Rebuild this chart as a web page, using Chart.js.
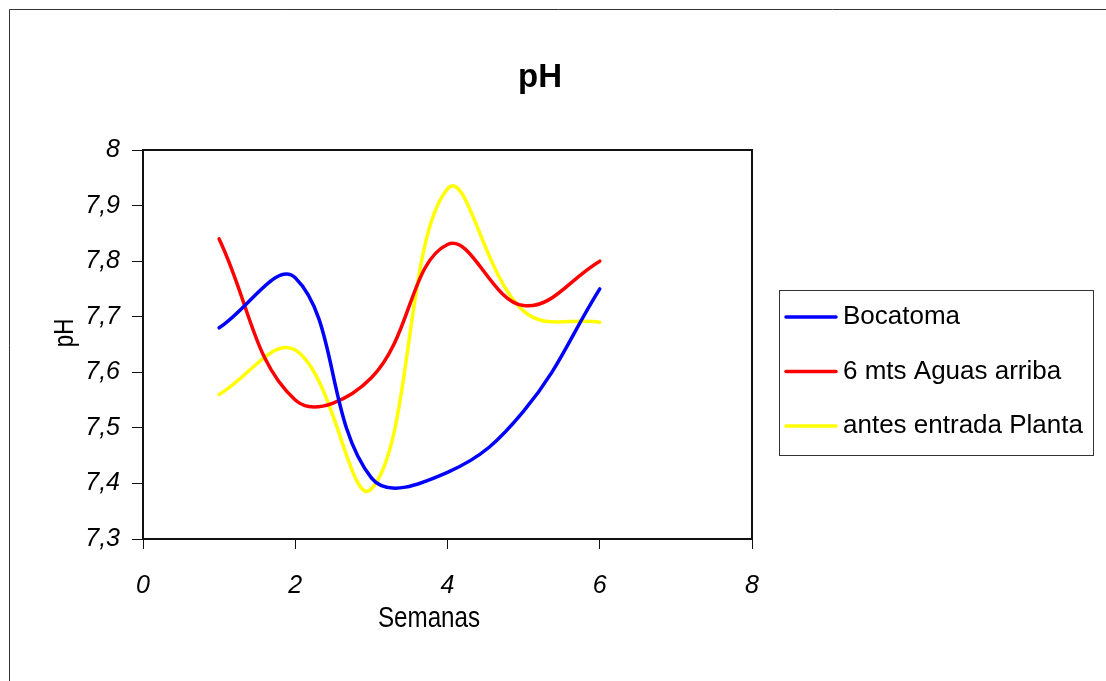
<!DOCTYPE html>
<html lang="es">
<head>
  <meta charset="UTF-8" />
  <title>pH - Semanas</title>
  <script src="https://cdn.jsdelivr.net/npm/chart.js"></script>
  <style>
    html, body {
      margin: 0;
      padding: 0;
      background: #fff;
    }

    .grafico {
      position: relative;
      width: 1106px;
      height: 681px;
    }
  </style>
</head>
<body>

<div class="grafico">
  <canvas id="graficoPh"></canvas>
</div>

<script>
  // Semanas de muestreo y valores de pH por punto
  const semanas = [1, 2, 3, 4, 5, 6];
  const bocatoma = [7.68, 7.77, 7.41, 7.42, 7.53, 7.75];
  const aguasArriba = [7.84, 7.55, 7.59, 7.83, 7.72, 7.80];
  const entradaPlanta = [7.56, 7.64, 7.39, 7.93, 7.71, 7.69];

  const series = ['Bocatoma', '6 mts Aguas arriba', 'antes entrada Planta'];
  const colores = ['#0000ff', '#ff0000', '#ffff00'];

  const tituloGrafico = 'pH';
  const tituloX = 'Semanas';
  const tituloY = 'pH';

  const fuente = "'Liberation Sans', Arial, sans-serif";

  const puntos = valores => semanas.map((s, i) => ({ x: s, y: valores[i] }));

  // texto estrecho: se comprime en horizontal
  function textoEstrecho(ctx, texto, x, y, size) {
    ctx.save();
    ctx.translate(x, y);
    ctx.scale(0.82, 1);
    ctx.font = size + 'px ' + fuente;
    ctx.fillText(texto, 0, 0);
    ctx.restore();
  }

  // Marco, titulos y leyenda al estilo de la hoja de calculo
  const decoracion = {
    id: 'decoracion',
    beforeDatasetsDraw(chart) {
      const ctx = chart.ctx;
      const a = chart.chartArea;
      ctx.save();
      // marco exterior
      ctx.strokeStyle = '#333';
      ctx.lineWidth = 1;
      ctx.beginPath();
      ctx.moveTo(9.5, chart.height + 5);
      ctx.lineTo(9.5, 9.5);
      ctx.lineTo(chart.width + 5, 9.5);
      ctx.stroke();
      // borde del area de trazado
      ctx.strokeStyle = '#111';
      ctx.lineWidth = 2;
      ctx.strokeRect(a.left, a.top, a.right - a.left, a.bottom - a.top);
      ctx.restore();
    },
    afterDraw(chart) {
      const ctx = chart.ctx;
      ctx.save();
      ctx.fillStyle = '#000';

      // titulo
      ctx.font = 'bold 33px ' + fuente;
      ctx.textAlign = 'center';
      ctx.textBaseline = 'alphabetic';
      ctx.fillText(tituloGrafico, 540, 87);

      // titulo eje X
      textoEstrecho(ctx, tituloX, 429, 627, 29.5);

      // titulo eje Y
      ctx.save();
      ctx.translate(66, 333);
      ctx.rotate(-Math.PI / 2);
      ctx.textBaseline = 'middle';
      textoEstrecho(ctx, tituloY, 0, 0, 27);
      ctx.restore();

      // leyenda
      ctx.strokeStyle = '#333';
      ctx.lineWidth = 1;
      ctx.strokeRect(779.5, 290.5, 314, 165);
      ctx.font = '26px ' + fuente;
      ctx.textAlign = 'left';
      ctx.textBaseline = 'middle';
      chart.data.datasets.forEach((ds, i) => {
        const y = 317 + i * 54.5;
        ctx.strokeStyle = ds.borderColor;
        ctx.lineWidth = 3.5;
        ctx.lineCap = 'round';
        ctx.beginPath();
        ctx.moveTo(786, y);
        ctx.lineTo(836, y);
        ctx.stroke();
        ctx.fillText(ds.label, 843, y);
      });
      ctx.restore();
    }
  };

  const datos = [bocatoma, aguasArriba, entradaPlanta];

  new Chart(document.getElementById('graficoPh'), {
    type: 'line',
    data: {
      datasets: series.map((nombre, i) => ({
        label: nombre,
        data: puntos(datos[i]),
        borderColor: colores[i],
        backgroundColor: colores[i],
        borderWidth: 3.5,
        borderCapStyle: 'round',
        pointRadius: 0,
        tension: 0.4,
        fill: false
      }))
    },
    options: {
      responsive: true,
      maintainAspectRatio: false,
      animation: false,
      layout: {
        padding: { left: 9, right: 354, top: 150, bottom: 0 }
      },
      plugins: {
        legend: { display: false },
        title: { display: false },
        tooltip: { enabled: false }
      },
      scales: {
        x: {
          type: 'linear',
          min: 0,
          max: 8,
          ticks: {
            stepSize: 2,
            color: '#000',
            padding: 22,
            maxRotation: 0,
            font: { family: fuente, size: 25, style: 'italic' }
          },
          grid: {
            drawOnChartArea: false,
            drawTicks: true,
            tickLength: 10,
            tickColor: '#111',
            tickWidth: 1
          },
          border: { display: false },
          afterFit(scale) { scale.height = 142; }
        },
        y: {
          min: 7.3,
          max: 8,
          ticks: {
            stepSize: 0.1,
            color: '#000',
            padding: 12,
            font: { family: fuente, size: 25, style: 'italic' },
            callback: v => String(Math.round(v * 10) / 10).replace('.', ',')
          },
          grid: {
            drawOnChartArea: false,
            drawTicks: true,
            tickLength: 11,
            tickColor: '#111',
            tickWidth: 1
          },
          border: { display: false },
          afterFit(scale) { scale.width = 134; }
        }
      }
    },
    plugins: [decoracion]
  });
</script>

</body>
</html>
